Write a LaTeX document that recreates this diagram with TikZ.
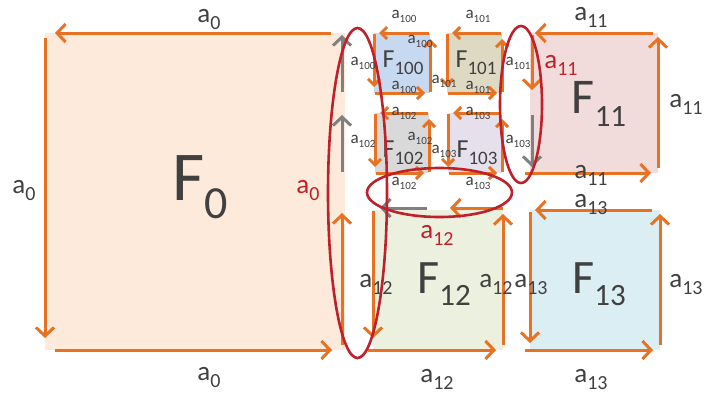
\documentclass[tikz,border=0pt]{standalone}
\usepackage{fontspec}
\setmainfont{Carlito}
\usepackage{tikz}
\usetikzlibrary{arrows.meta,calc}
\definecolor{ora}{RGB}{232,114,36}
\definecolor{gry}{RGB}{128,128,128}
\definecolor{rim}{RGB}{192,32,42}
\definecolor{txt}{RGB}{64,64,64}
\definecolor{c0}{RGB}{253,234,218}
\definecolor{c100}{RGB}{198,217,240}
\definecolor{c101}{RGB}{221,217,195}
\definecolor{c102}{RGB}{217,217,217}
\definecolor{c103}{RGB}{229,224,236}
\definecolor{c11}{RGB}{242,220,219}
\definecolor{c12}{RGB}{235,241,222}
\definecolor{c13}{RGB}{219,238,243}
\newcommand{\ix}[2]{\raisebox{-0.27em}{\fontsize{#1}{#1}\selectfont #2}}
\tikzset{
  face/.style={inner sep=0pt,outer sep=0pt},
  edge/.style={draw=ora,line width=3pt,-{Straight Barb[length=8.5pt,width=18pt]}},
  edgesm/.style={edge,-{Straight Barb[length=6pt,width=12pt]}},
  back/.style={edge,draw=gry},
  ring/.style={draw=rim,line width=2.6pt},
  lblbig/.style={text=txt,inner sep=0pt,anchor=base,font=\fontsize{27}{27}\selectfont},
  lblsm/.style={text=txt,inner sep=0pt,anchor=base,font=\fontsize{17}{17}\selectfont},
  lblF/.style={text=txt,inner sep=0pt,anchor=base}
}

\begin{document}
\begin{tikzpicture}[x=1pt,y=-1pt]
      \useasboundingbox (0,0) rectangle (704,394);

      \node[face,fill=c0,minimum width=300,minimum height=317] (f0) at (195,191.5) {};
      \node[face,fill=c100,minimum width=56,minimum height=60] (f100) at (402,63) {};
      \node[face,fill=c101,minimum width=55,minimum height=60] (f101) at (474.5,63) {};
      \node[face,fill=c102,minimum width=54,minimum height=60] (f102) at (402,143) {};
      \node[face,fill=c103,minimum width=54,minimum height=60] (f103) at (475,143) {};
      \node[face,fill=c11,minimum width=128,minimum height=140] (f11) at (594,103) {};
      \node[face,fill=c12,minimum width=130,minimum height=140] (f12) at (438,280) {};
      \node[face,fill=c13,minimum width=130,minimum height=140] (f13) at (595,280) {};

      \draw[edge] ([xshift=-14]f0.north east) -- ([xshift=10]f0.north west);
      \draw[edge] ([yshift=-5]f0.north west) -- ([yshift=12]f0.south west);
      \draw[edge] ([xshift=10]f0.south west) -- ([xshift=-13]f0.south east);
      \draw[edge] ([xshift=-3,yshift=5]f0.south east) -- ([xshift=-3,yshift=137]f0.south east);
      \draw[back] ([xshift=-3,yshift=-139]f0.north east) -- ([xshift=-3,yshift=-82]f0.north east);
      \draw[back] ([xshift=-3,yshift=-59]f0.north east) -- ([xshift=-3,yshift=-2]f0.north east);

      \foreach \n in {f100,f101,f102,f103} {
          \draw[edgesm] ([xshift=-1]\n.north east) -- ([xshift=5]\n.north west);
          \draw[edgesm] ([yshift=-1]\n.north west) -- ([yshift=6]\n.south west);
          \draw[edgesm] ([xshift=1]\n.south west) -- ([xshift=-5]\n.south east);
          \draw[edgesm] ([yshift=1]\n.south east) -- ([yshift=-6]\n.north east);
        }

      \foreach \n in {f11,f12,f13} {
          \draw[edge] ([xshift=-5]\n.south west) -- ([xshift=-7]\n.south east);
          \draw[edge] ([yshift=5]\n.south east) -- ([yshift=-4]\n.north east);
        }
      \draw[edge] ([xshift=-5]f11.north east) -- ([xshift=5]f11.north west);
      \draw[edge] ([xshift=2,yshift=-2]f11.north west) -- ([xshift=2,yshift=-57]f11.north west);
      \draw[back] ([xshift=2,yshift=-82]f11.north west) -- ([xshift=2,yshift=-134]f11.north west);
      \draw[edge] ([yshift=2]f12.north east) -- ([xshift=-53,yshift=2]f12.north east);
      \draw[back] ([xshift=-76,yshift=2]f12.north east) -- ([xshift=-123,yshift=2]f12.north east);
      \draw[edge] ([yshift=-1]f12.north west) -- ([yshift=12]f12.south west);
      \draw[edge] ([xshift=-8]f13.north east) -- ([xshift=5]f13.north west);
      \draw[edge] ([yshift=-2]f13.north west) -- ([yshift=7]f13.south west);

      \node[lblF,font=\fontsize{70}{70}\selectfont] (F0) at (200,200) {F\ix{46}{0}};
      \node[lblF,font=\fontsize{50}{50}\selectfont] (F11) at (599,113) {F\ix{31}{11}};
      \node[lblF,font=\fontsize{48}{48}\selectfont] (F12) at (444,293) {F\ix{31}{12}};
      \node[lblF,font=\fontsize{48}{48}\selectfont] (F13) at (599,293) {F\ix{31}{13}};
      \node[lblF,font=\fontsize{26}{26}\selectfont] (F100) at (403,67) {F\ix{19}{100}};
      \node[lblF,font=\fontsize{26}{26}\selectfont] (F101) at (476,67) {F\ix{19}{101}};
      \node[lblF,font=\fontsize{26}{26}\selectfont] (F102) at (403,157) {F\ix{19}{102}};
      \node[lblF,font=\fontsize{26}{26}\selectfont] (F103) at (477,157) {F\ix{19}{103}};

      \node[lblbig] (a0t) at (209,22) {a\ix{20}{0}};
      \node[lblbig] (a0l) at (24,193) {a\ix{20}{0}};
      \node[lblbig] (a0b) at (209,380) {a\ix{20}{0}};
      \node[lblbig,text=rim] (a0r) at (308,193) {a\ix{20}{0}};
      \node[lblbig] (a11t) at (591,20) {a\ix{20}{11}};
      \node[lblbig,text=rim] (a11r) at (561,68) {a\ix{20}{11}};
      \node[lblbig] (a11e) at (686,107) {a\ix{20}{11}};
      \node[lblbig] (a11b) at (591,178) {a\ix{20}{11}};
      \node[lblbig,text=rim] (a12r) at (437,238) {a\ix{20}{12}};
      \node[lblbig] (a12l) at (376,287) {a\ix{20}{12}};
      \node[lblbig] (a12e) at (496,287) {a\ix{20}{12}};
      \node[lblbig] (a12b) at (437,382) {a\ix{20}{12}};
      \node[lblbig] (a13t) at (591,207) {a\ix{20}{13}};
      \node[lblbig] (a13l) at (531,287) {a\ix{20}{13}};
      \node[lblbig] (a13e) at (686,287) {a\ix{20}{13}};
      \node[lblbig] (a13b) at (591,382) {a\ix{20}{13}};

      \node[lblsm] (a100t) at (404,18) {a\ix{11}{100}};
      \node[lblsm] (a100i) at (420,43) {a\ix{11}{100}};
      \node[lblsm] (a100l) at (363,65) {a\ix{11}{100}};
      \node[lblsm] (a100b) at (404,89) {a\ix{11}{100}};
      \node[lblsm] (a101m) at (444,83) {a\ix{11}{101}};
      \node[lblsm] (a101t) at (478,18) {a\ix{11}{101}};
      \node[lblsm] (a101b) at (478,89) {a\ix{11}{101}};
      \node[lblsm] (a101r) at (518,65) {a\ix{11}{101}};
      \node[lblsm] (a102t) at (404,115) {a\ix{11}{102}};
      \node[lblsm] (a102i) at (420,140) {a\ix{11}{102}};
      \node[lblsm] (a102l) at (363,143) {a\ix{11}{102}};
      \node[lblsm] (a102b) at (404,185) {a\ix{11}{102}};
      \node[lblsm] (a103t) at (478,115) {a\ix{11}{103}};
      \node[lblsm] (a103m) at (444,153) {a\ix{11}{103}};
      \node[lblsm] (a103r) at (518,143) {a\ix{11}{103}};
      \node[lblsm] (a103b) at (478,185) {a\ix{11}{103}};

      \draw[ring] (357.5,193) ellipse [x radius=29.5pt,y radius=165pt];
      \draw[ring] (521,104.5) ellipse [x radius=21pt,y radius=78.5pt];
      \draw[ring] (439.5,192.5) ellipse [x radius=72.5pt,y radius=24.5pt];
    \end{tikzpicture}
\end{document}
